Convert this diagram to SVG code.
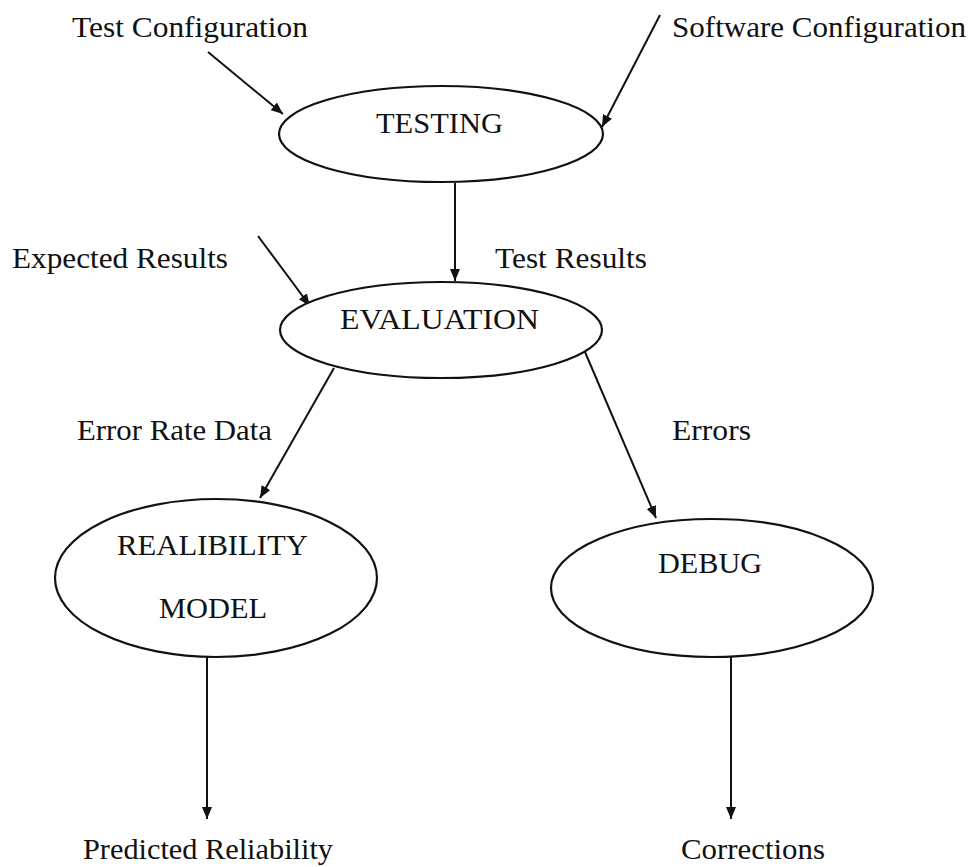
<svg xmlns="http://www.w3.org/2000/svg" width="971" height="867" viewBox="0 0 971 867">
<defs>
<style>
.node ellipse{fill:#fff;stroke:#111;stroke-width:2.2}
text{font-family:"Liberation Serif","Times New Roman",serif;font-size:30px;fill:#111}
#connectors line{stroke:#111;stroke-width:2;marker-end:url(#ah)}
</style>
<marker id="ah" viewBox="0 0 12 10" refX="12" refY="5" markerWidth="6" markerHeight="5" markerUnits="strokeWidth" orient="auto">
<path d="M0,0 L12,5 L0,10 z" fill="#111"/>
</marker>
</defs>
<rect width="971" height="867" fill="#fff"/>
<g id="connectors">
<line x1="208" y1="52" x2="283" y2="114"/>
<line x1="660" y1="15" x2="602" y2="127"/>
<line x1="455" y1="183" x2="455" y2="281"/>
<line x1="258" y1="236" x2="310" y2="306"/>
<line x1="334" y1="368" x2="260" y2="498"/>
<line x1="585" y1="352" x2="656" y2="518"/>
<line x1="207" y1="657" x2="207" y2="819"/>
<line x1="731" y1="657" x2="731" y2="819"/>
</g>
<g id="labels">
<text x="72" y="37" textLength="236" lengthAdjust="spacingAndGlyphs">Test Configuration</text>
<text x="672" y="37" textLength="294" lengthAdjust="spacingAndGlyphs">Software Configuration</text>
<text x="12" y="268" textLength="216" lengthAdjust="spacingAndGlyphs">Expected Results</text>
<text x="495" y="268" textLength="152" lengthAdjust="spacingAndGlyphs">Test Results</text>
<text x="77" y="440" textLength="195" lengthAdjust="spacingAndGlyphs">Error Rate Data</text>
<text x="672" y="440" textLength="79" lengthAdjust="spacingAndGlyphs">Errors</text>
<text x="83" y="859" textLength="250" lengthAdjust="spacingAndGlyphs">Predicted Reliability</text>
<text x="681" y="859" textLength="144" lengthAdjust="spacingAndGlyphs">Corrections</text>
</g>
<g id="testing" class="node">
<ellipse cx="441" cy="134" rx="162" ry="48"/>
<text x="376" y="133" textLength="127" lengthAdjust="spacingAndGlyphs">TESTING</text>
</g>
<g id="evaluation" class="node">
<ellipse cx="441" cy="330" rx="161" ry="48"/>
<text x="340" y="329" textLength="199" lengthAdjust="spacingAndGlyphs">EVALUATION</text>
</g>
<g id="reliability-model" class="node">
<ellipse cx="216" cy="578" rx="161" ry="79"/>
<text x="117" y="555" textLength="191" lengthAdjust="spacingAndGlyphs">REALIBILITY</text>
<text x="159" y="618" textLength="108" lengthAdjust="spacingAndGlyphs">MODEL</text>
</g>
<g id="debug" class="node">
<ellipse cx="712" cy="588" rx="161" ry="69"/>
<text x="658" y="573" textLength="104" lengthAdjust="spacingAndGlyphs">DEBUG</text>
</g>
</svg>
